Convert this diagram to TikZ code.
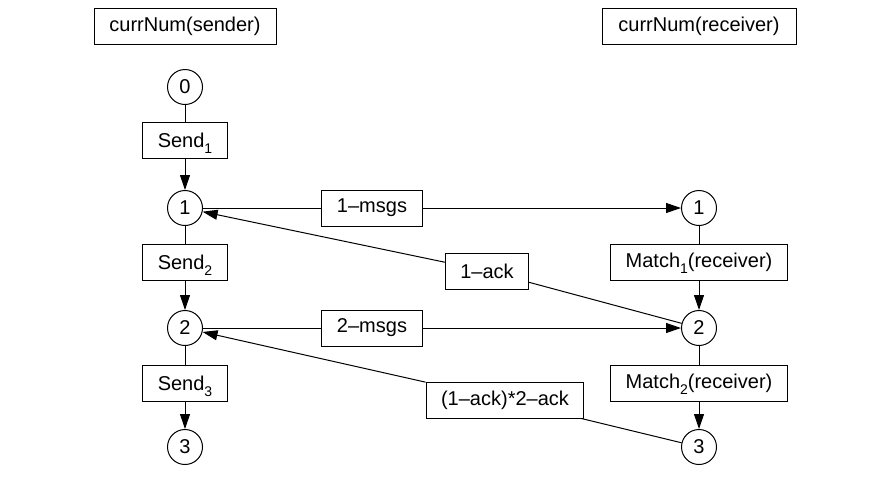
\documentclass[tikz,border=0pt]{standalone}
\usepackage{fontspec}
\setmainfont{Liberation Sans}
\usepackage{tikz}
\usetikzlibrary{arrows.meta, positioning}
\newcommand{\lowsub}[1]{\raisebox{-3pt}[0pt][0pt]{\fontsize{7}{8}\selectfont #1}}
\tikzset{
  statenode/.style={circle, draw, minimum size=17.5pt, inner sep=0pt,
    font=\fontsize{10}{12}\selectfont, line width=0.5pt},
  labelbox/.style={rectangle, draw, minimum height=18pt, inner xsep=7.5pt,
    font=\fontsize{10}{12}\selectfont, line width=0.5pt},
  arrow/.style={-{Triangle[length=7.5pt,width=5pt]}, line width=0.5pt},
  line/.style={line width=0.5pt}
}

\begin{document}
\begin{tikzpicture}[x=0.5pt, y=-0.5pt]
  \useasboundingbox (0,0) rectangle (882,489);

  % Headers
  \node[labelbox, minimum width=91pt] (hdrS) at (185, 26) {currNum(sender)};
  \node[labelbox, minimum width=97pt] (hdrR) at (699, 26) {currNum(receiver)};

  % Sender states and transitions
  \node[statenode] (L0) at (185, 87) {0};
  \node[labelbox] (send1) at (185, 140) {Send\lowsub{1}};
  \node[statenode] (L1) at (185, 208) {1};
  \node[labelbox] (send2) at (185, 262) {Send\lowsub{2}};
  \node[statenode] (L2) at (185, 328) {2};
  \node[labelbox] (send3) at (185, 383) {Send\lowsub{3}};
  \node[statenode] (L3) at (185, 447) {3};

  % Receiver states and transitions
  \node[statenode] (R1) at (699, 208) {1};
  \node[labelbox] (match1) at (699, 262) {Match\lowsub{1}(receiver)};
  \node[statenode] (R2) at (699, 328) {2};
  \node[labelbox] (match2) at (699, 383) {Match\lowsub{2}(receiver)};
  \node[statenode] (R3) at (699, 447) {3};

  % Messages and acks
  \node[labelbox] (msgs1) at (372, 208) {1--msgs};
  \node[labelbox] (msgs2) at (372, 328) {2--msgs};
  \node[labelbox] (ack1) at (487, 271) {1--ack};
  \node[labelbox] (ack2) at (505, 400) {(1--ack)*2--ack};

  % Sender chain
  \draw[line] (L0) -- (send1);
  \draw[arrow] (send1) -- (L1);
  \draw[line] (L1) -- (send2);
  \draw[arrow] (send2) -- (L2);
  \draw[line] (L2) -- (send3);
  \draw[arrow] (send3) -- (L3);

  % Receiver chain
  \draw[line] (R1) -- (match1);
  \draw[arrow] (match1) -- (R2);
  \draw[line] (R2) -- (match2);
  \draw[arrow] (match2) -- (R3);

  % Sender to receiver
  \draw[line] (L1) -- (msgs1);
  \draw[arrow] (msgs1) -- (R1);
  \draw[line] (L2) -- (msgs2);
  \draw[arrow] (msgs2) -- (R2);

  % Receiver to sender
  \draw[line] (R2) -- (ack1);
  \draw[arrow] (ack1) -- (L1);
  \draw[line] (R3) -- (ack2);
  \draw[arrow] (ack2) -- (L2);
\end{tikzpicture}
\end{document}
